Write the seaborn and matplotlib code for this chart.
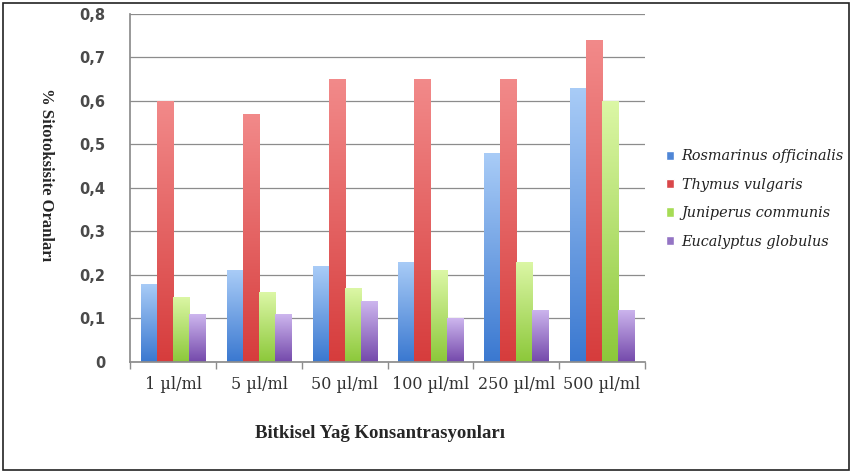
import numpy as np
import pandas as pd
import matplotlib
matplotlib.use("Agg")
import matplotlib.pyplot as plt
import seaborn as sns
from matplotlib.colors import LinearSegmentedColormap
from matplotlib.patches import Rectangle

# data
concentrations = ["1 µl/ml", "5 µl/ml", "50 µl/ml", "100 µl/ml", "250 µl/ml", "500 µl/ml"]
species = ["Rosmarinus officinalis", "Thymus vulgaris", "Juniperus communis", "Eucalyptus globulus"]
rosmarinus = [0.18, 0.21, 0.22, 0.23, 0.48, 0.63]
thymus = [0.60, 0.57, 0.65, 0.65, 0.65, 0.74]
juniperus = [0.15, 0.16, 0.17, 0.21, 0.23, 0.60]
eucalyptus = [0.11, 0.11, 0.14, 0.10, 0.12, 0.12]
ytick_values = [0, 0.1, 0.2, 0.3, 0.4, 0.5, 0.6, 0.7, 0.8]
ytick_labels = ["0", "0,1", "0,2", "0,3", "0,4", "0,5", "0,6", "0,7", "0,8"]

df = pd.DataFrame({
    "konsantrasyon": concentrations * 4,
    "tur": np.repeat(species, len(concentrations)),
    "oran": rosmarinus + thymus + juniperus + eucalyptus,
})

# solid colour for legend, (top, bottom) for the bar gradient
solid = ["#4f86d6", "#d9474a", "#a6dc55", "#9474c4"]
grads = [("#a9ccf7", "#3a78d0"), ("#f28a8a", "#d63c3c"),
         ("#dcf7a6", "#8cc83a"), ("#cdb6ee", "#7449ab")]

sns.set_theme(style="white")
fig = plt.figure(figsize=(8.52, 4.73), dpi=100)
ax = fig.add_axes([0.153, 0.235, 0.604, 0.736])

sns.barplot(data=df, x="konsantrasyon", y="oran", hue="tur",
            palette=solid, width=0.75, gap=0, saturation=1,
            errorbar=None, ax=ax)

# gradient fill for each bar
grad_img = np.linspace(0, 1, 256).reshape(-1, 1)
bars = [p for p in ax.patches if p.get_height() > 0]
for i, p in enumerate(bars):
    k = i // len(concentrations)
    cmap = LinearSegmentedColormap.from_list(f"g{k}", [grads[k][1], grads[k][0]])
    x, w, h = p.get_x(), p.get_width(), p.get_height()
    im = ax.imshow(grad_img, cmap=cmap, origin="lower", aspect="auto",
                   extent=[x, x + w, 0, h], zorder=2)
    im.set_clip_path(p)
    p.set_alpha(0)

ax.set_xlim(-0.5, 5.5)
ax.set_ylim(0, 0.8)
ax.set_yticks(ytick_values)
ax.set_yticklabels(ytick_labels)
ax.yaxis.grid(True, color="#8c8c8c", linewidth=0.9)
ax.set_axisbelow(True)

for s in ["top", "right"]:
    ax.spines[s].set_visible(False)
ax.spines["left"].set_color("#8c8c8c")
ax.spines["bottom"].set_color("#8c8c8c")

ax.set_xticks(np.arange(-0.5, 6, 1), minor=True)
ax.tick_params(axis="x", which="major", length=0, pad=10)
ax.tick_params(axis="x", which="minor", length=5, color="#8c8c8c", bottom=True, direction="out")
ax.tick_params(axis="y", length=0, pad=18)
for lbl in ax.get_xticklabels():
    lbl.set_family("DejaVu Serif")
    lbl.set_fontsize(11.5)
    lbl.set_color("#333333")
for lbl in ax.get_yticklabels():
    lbl.set_family("DejaVu Sans")
    lbl.set_fontsize(10.5)
    lbl.set_color("#4a4a4a")
    lbl.set_fontweight("semibold")

ax.set_xlabel("Bitkisel Yağ Konsantrasyonları", family="Liberation Serif",
              fontweight="bold", fontsize=13.5)
ax.xaxis.set_label_coords(0.485, -0.18)
ax.set_ylabel("% Sitotoksisite Oranları", family="Liberation Serif",
              fontweight="bold", fontsize=12, rotation=270, labelpad=0)
ax.yaxis.set_label_coords(-0.179, 0.537)

leg = ax.legend(loc="center left", bbox_to_anchor=(1.015, 0.468), frameon=False,
                handlelength=0.6, handleheight=0.6, labelspacing=1.0,
                handletextpad=0.5,
                prop={"family": "DejaVu Serif", "style": "italic", "size": 10.4})
for t in leg.get_texts():
    t.set_color("#222222")

# outer frame round the figure
fig.patches.append(Rectangle((0.004, 0.006), 0.992, 0.988, transform=fig.transFigure,
                             fill=False, edgecolor="#222222", linewidth=1.2))

fig.savefig("out.png", dpi=100)
